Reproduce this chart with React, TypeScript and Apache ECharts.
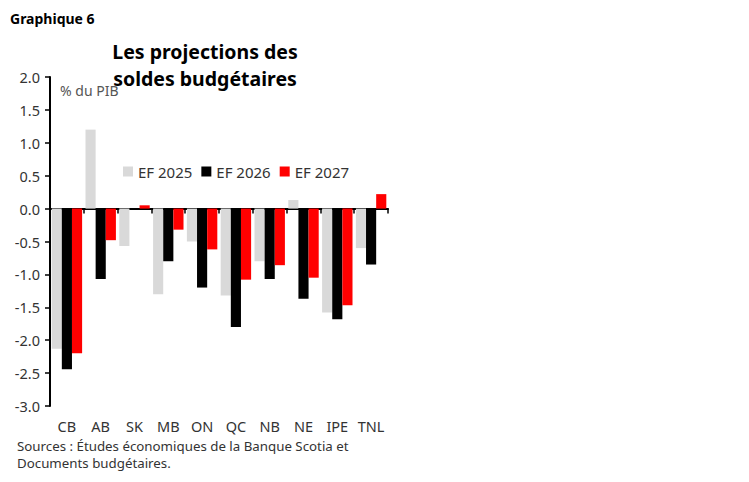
import React, { useEffect, useRef } from "react";
import * as echarts from "echarts";

const provinces = ["CB", "AB", "SK", "MB", "ON", "QC", "NB", "NE", "IPE", "TNL"];
const seriesNames = ["EF 2025", "EF 2026", "EF 2027"];
const fy2025 = [-2.13, 1.2, -0.57, -1.3, -0.5, -1.32, -0.8, 0.13, -1.58, -0.6];
const fy2026 = [-2.44, -1.07, 0, -0.8, -1.2, -1.8, -1.07, -1.37, -1.68, -0.85];
const fy2027 = [-2.2, -0.48, 0.05, -0.32, -0.62, -1.08, -0.86, -1.05, -1.47, 0.22];
const colors = ["#d9d9d9", "#000000", "#ff0000"];

const FONT = "Noto Sans";

const App: React.FC = () => {
  const chartRef = useRef<HTMLDivElement>(null);

  useEffect(() => {
    if (!chartRef.current) return;
    const chart = echarts.init(chartRef.current, null, { renderer: "svg" });

    const values = [fy2025, fy2026, fy2027];

    chart.setOption({
      animation: false,
      textStyle: { fontFamily: FONT },
      title: [
        {
          text: "Graphique 6",
          left: 5,
          top: 6,
          textStyle: { fontSize: 14, fontWeight: "bold", color: "#000", fontFamily: FONT },
        },
        {
          text: "Les projections des\nsoldes budgétaires",
          left: 200,
          top: 33,
          textAlign: "center",
          textStyle: {
            fontSize: 19.5,
            fontWeight: "bold",
            color: "#000",
            lineHeight: 27,
            fontFamily: FONT,
          },
        },
      ],
      legend: {
        data: seriesNames,
        left: 118,
        top: 159,
        itemWidth: 10,
        itemHeight: 10,
        itemGap: 9,
        icon: "rect",
        textStyle: { fontSize: 15, color: "#333", fontFamily: FONT },
      },
      grid: { left: 50, right: 361, top: 77, bottom: 76, containLabel: false },
      xAxis: [
        {
          type: "category",
          data: provinces,
          axisLine: { onZero: true, lineStyle: { color: "#000", width: 2 } },
          axisTick: { show: true, length: 5, lineStyle: { color: "#000", width: 1.5 } },
          axisLabel: { show: false },
        },
        {
          type: "category",
          data: provinces,
          position: "bottom",
          axisLine: { show: false, onZero: false },
          axisTick: { show: false },
          axisLabel: { fontSize: 14.5, color: "#333", margin: 12, interval: 0, fontFamily: FONT },
        },
      ],
      yAxis: {
        type: "value",
        min: -3,
        max: 2,
        interval: 0.5,
        splitLine: { show: false },
        axisLine: { show: true, lineStyle: { color: "#000", width: 2 } },
        axisTick: { show: true, length: 5, lineStyle: { color: "#000", width: 1.5 } },
        axisLabel: {
          fontSize: 14.5,
          color: "#333",
          margin: 10,
          fontFamily: FONT,
          formatter: (v: number) => v.toFixed(1),
        },
      },
      graphic: [
        {
          type: "text",
          left: 60,
          top: 83,
          style: { text: "% du PIB", fontSize: 14, fill: "#555", fontFamily: FONT },
        },
        {
          type: "text",
          left: 17,
          top: 437,
          style: {
            text: "Sources : Études économiques de la Banque Scotia et\nDocuments budgétaires.",
            fontSize: 13.3,
            lineHeight: 17,
            fill: "#333",
            fontFamily: FONT,
          },
        },
      ],
      series: seriesNames.map((name, i) => ({
        name,
        type: "bar",
        xAxisIndex: 0,
        data: values[i],
        barGap: "0%",
        barCategoryGap: "10%",
        itemStyle: { color: colors[i] },
      })),
    });

    return () => chart.dispose();
  }, []);

  return (
    <div
      ref={chartRef}
      style={{ position: "absolute", left: 0, top: 0, width: "749px", height: "482px", background: "#fff" }}
    />
  );
};

export default App;
